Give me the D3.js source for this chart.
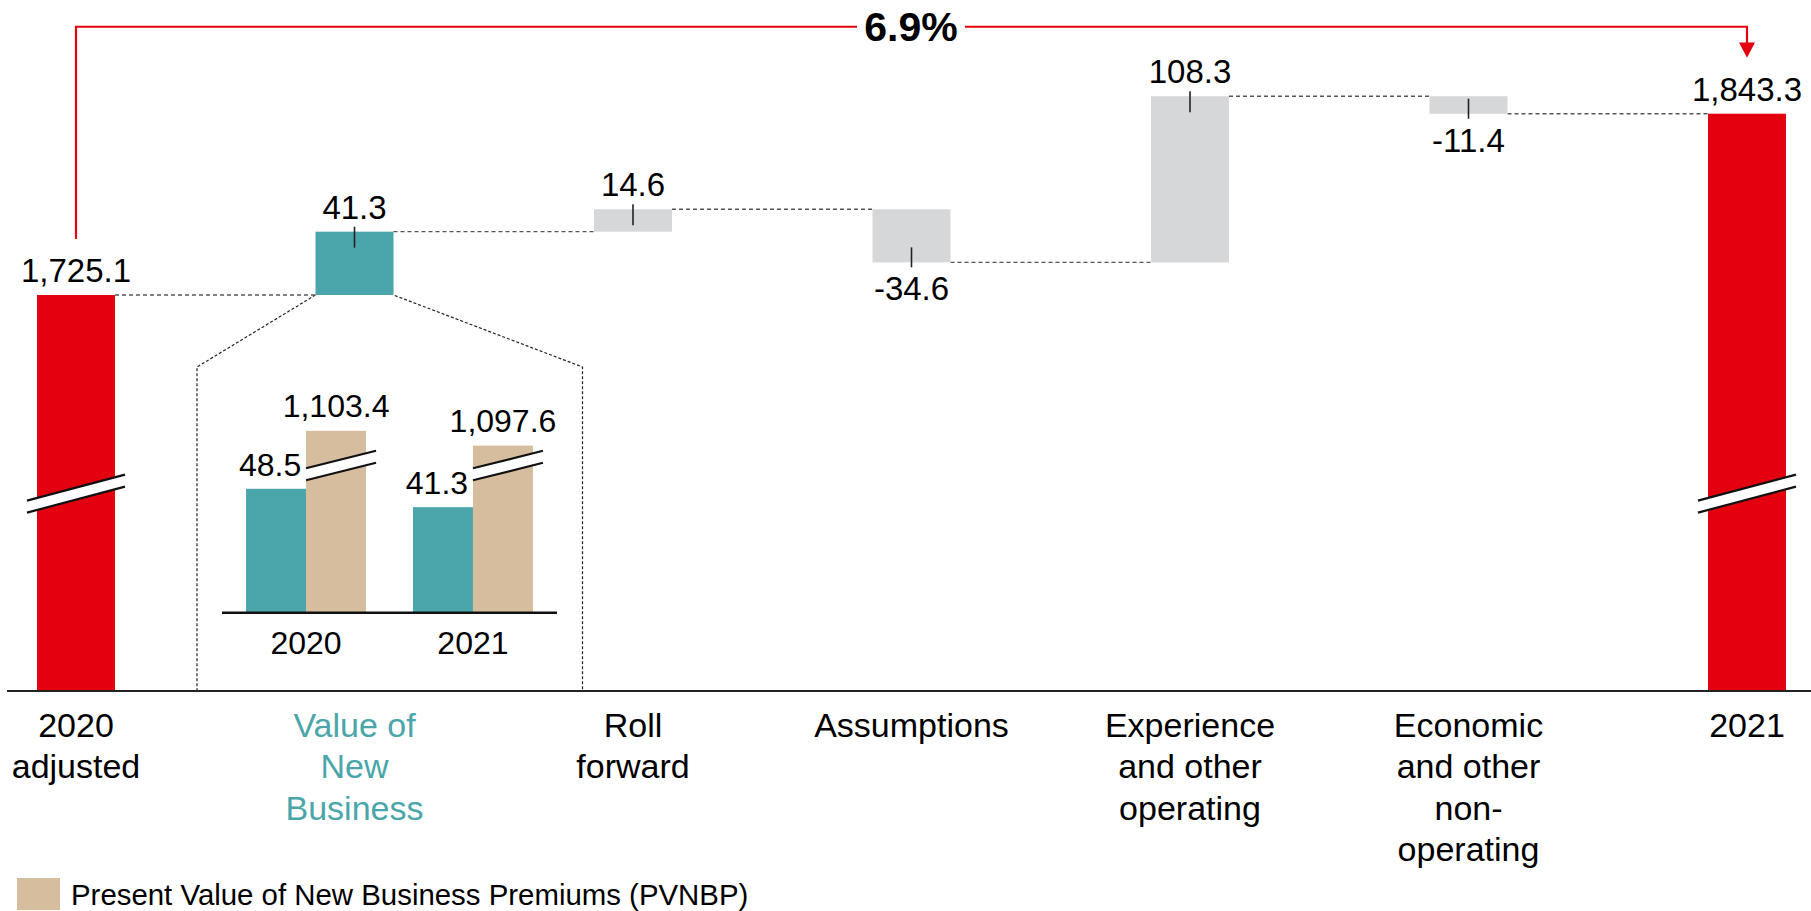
<!DOCTYPE html>
<html>
<head>
<meta charset="utf-8">
<script src="https://cdn.jsdelivr.net/npm/d3@7"></script>
<style>
  html, body { margin: 0; padding: 0; background: #fff; }
  svg { display: block; font-family: "Liberation Sans", Arial, Helvetica, sans-serif; }
</style>
</head>
<body>
<script>
// ---------------- DATA ----------------
const categories = ["2020 adjusted", "Value of New Business", "Roll forward", "Assumptions",
                    "Experience and other operating", "Economic and other non-operating", "2021"];
const categoryLines = [["2020", "adjusted"], ["Value of", "New", "Business"], ["Roll", "forward"],
                       ["Assumptions"], ["Experience", "and other", "operating"],
                       ["Economic", "and other", "non-", "operating"], ["2021"]];
const values = [1725.1, 41.3, 14.6, -34.6, 108.3, -11.4, 1843.3];
const barKinds = ["total", "vnb", "delta", "delta", "delta", "delta", "total"];
const valueLabels = ["1,725.1", "41.3", "14.6", "-34.6", "108.3", "-11.4", "1,843.3"];
const growthLabel = "6.9%";

const insetYears = ["2020", "2021"];
const insetVNB = [48.5, 41.3];
const insetVNBLabels = ["48.5", "41.3"];
const insetPVNBP = [1103.4, 1097.6];
const insetPVNBPLabels = ["1,103.4", "1,097.6"];
const legendLabel = "Present Value of New Business Premiums (PVNBP)";

// ---------------- STYLE ----------------
const RED = "#e3000f", TEAL = "#4aa6aa", TAN = "#d6bd9e", GREY = "#d6d7d9";
const W = 1811, H = 911;
const axisY = 691;
const barW = 78;

const svg = d3.select("body").append("svg").attr("width", W).attr("height", H);

// ---------------- SCALES ----------------
const x = d3.scalePoint().domain(categories).range([76, 1747]);
const y = d3.scaleLinear().domain([1600, 1900]).range([486.9, 26.74]);
const breakValue = 1595.6;

// waterfall geometry
let running = 0;
const bars = categories.map((c, i) => {
  const v = values[i];
  let lo, hi, end;
  if (barKinds[i] === "total") { lo = null; hi = v; running = v; end = v; }
  else { const start = running; running = start + v; lo = Math.min(start, running); hi = Math.max(start, running); end = running; }
  return { c, i, v, lo, hi, end, kind: barKinds[i] };
});

const fillFor = k => k === "total" ? RED : (k === "vnb" ? TEAL : GREY);

// ---------------- INSET (drawn first, behind) ----------------
const insetLeft = 197, insetRight = 582.5, insetTopY = 367;
const teal = bars[1];
svg.append("path")
  .attr("d", d3.line()([
    [x(teal.c) - barW / 2, y(teal.lo)], [insetLeft, insetTopY], [insetLeft, axisY],
    [insetRight, axisY], [insetRight, insetTopY], [x(teal.c) + barW / 2, y(teal.lo)]
  ]))
  .attr("fill", "none").attr("stroke", "#222").attr("stroke-width", 1.2)
  .attr("stroke-dasharray", "3,2");

const ix = d3.scaleBand().domain(insetYears).range([222, 557]).paddingInner(0.281).paddingOuter(0.144);
const isub = d3.scaleBand().domain(["vnb", "pvnbp"]).range([0, ix.bandwidth()]);
const iy = d3.scaleLinear().domain([0, 80]).range([612.7, 408.3]);
const pvnbpBreakOffset = 1032.2;
const insetBreakAt = 57.6;

const ig = svg.append("g");
insetYears.forEach((yr, i) => {
  const x0 = ix(yr);
  // VNB bar
  ig.append("rect").attr("x", x0 + isub("vnb")).attr("width", isub.bandwidth())
    .attr("y", iy(insetVNB[i])).attr("height", iy(0) - iy(insetVNB[i])).attr("fill", TEAL);
  // PVNBP bar (broken axis)
  const pv = insetPVNBP[i] - pvnbpBreakOffset;
  ig.append("rect").attr("x", x0 + isub("pvnbp")).attr("width", isub.bandwidth())
    .attr("y", iy(pv)).attr("height", iy(0) - iy(pv)).attr("fill", TAN);
  // break on pvnbp
  const bx0 = x0 + isub("pvnbp"), bx1 = bx0 + isub.bandwidth() + 10;
  drawBreak(ig, bx0, bx1, iy(insetBreakAt), 0.25, 12);
  // labels
  ig.append("text").attr("x", x0 + isub("vnb") + isub.bandwidth() / 2 - 6).attr("y", iy(insetVNB[i]) - 13)
    .attr("text-anchor", "middle").attr("font-size", 32).attr("fill", "#000").text(insetVNBLabels[i]);
  ig.append("text").attr("x", x0 + isub("pvnbp") + isub.bandwidth() / 2).attr("y", iy(pv) - 14)
    .attr("text-anchor", "middle").attr("font-size", 32).attr("fill", "#000").text(insetPVNBPLabels[i]);
  ig.append("text").attr("x", x0 + ix.bandwidth() / 2).attr("y", iy(0) + 41)
    .attr("text-anchor", "middle").attr("font-size", 32).attr("fill", "#000").text(yr);
});
ig.append("line").attr("x1", 222).attr("x2", 557).attr("y1", iy(0)).attr("y2", iy(0))
  .attr("stroke", "#111").attr("stroke-width", 2.5);

function drawBreak(g, x0, x1, cy, slope, gap) {
  const hw = (x1 - x0) / 2;
  const up = [[x0, cy - gap / 2 + hw * slope], [x1, cy - gap / 2 - hw * slope]];
  const lo = [[x0, cy + gap / 2 + hw * slope], [x1, cy + gap / 2 - hw * slope]];
  g.append("path").attr("d", d3.line()([up[0], up[1], lo[1], lo[0]]) + "Z").attr("fill", "#fff");
  g.append("path").attr("d", d3.line()(up)).attr("stroke", "#111").attr("stroke-width", 2.2).attr("fill", "none");
  g.append("path").attr("d", d3.line()(lo)).attr("stroke", "#111").attr("stroke-width", 2.2).attr("fill", "none");
}

// ---------------- CONNECTORS ----------------
for (let i = 0; i < bars.length - 1; i++) {
  const b = bars[i], n = bars[i + 1];
  svg.append("line")
    .attr("x1", x(b.c) + barW / 2).attr("x2", x(n.c) - barW / 2)
    .attr("y1", y(b.end)).attr("y2", y(b.end))
    .attr("stroke", "#555").attr("stroke-width", 1.4).attr("stroke-dasharray", "4,3");
}

// ---------------- BARS ----------------
bars.forEach(b => {
  const top = y(b.hi);
  const bottom = b.kind === "total" ? axisY : y(b.lo);
  svg.append("rect").attr("x", x(b.c) - barW / 2).attr("width", barW)
    .attr("y", top).attr("height", bottom - top).attr("fill", fillFor(b.kind));
  if (b.kind === "total") {
    drawBreak(svg, x(b.c) - barW / 2 - 10, x(b.c) + barW / 2 + 10, y(breakValue), 0.265, 12);
    svg.append("text").attr("x", x(b.c)).attr("y", top - 13).attr("text-anchor", "middle")
      .attr("font-size", 33).attr("fill", "#000").text(valueLabels[b.i]);
  } else if (b.v >= 0) {
    svg.append("line").attr("x1", x(b.c)).attr("x2", x(b.c)).attr("y1", top - 5).attr("y2", top + 16)
      .attr("stroke", "#222").attr("stroke-width", 1.6);
    svg.append("text").attr("x", x(b.c)).attr("y", top - 13).attr("text-anchor", "middle")
      .attr("font-size", 33).attr("fill", "#000").text(valueLabels[b.i]);
  } else {
    svg.append("line").attr("x1", x(b.c)).attr("x2", x(b.c)).attr("y1", bottom - 15).attr("y2", bottom + 5)
      .attr("stroke", "#222").attr("stroke-width", 1.6);
    svg.append("text").attr("x", x(b.c)).attr("y", bottom + 38).attr("text-anchor", "middle")
      .attr("font-size", 33).attr("fill", "#000").text(valueLabels[b.i]);
  }
});

// ---------------- AXIS ----------------
svg.append("line").attr("x1", 7).attr("x2", W).attr("y1", axisY).attr("y2", axisY)
  .attr("stroke", "#222").attr("stroke-width", 2.2);

const xAxis = svg.append("g");
categories.forEach((c, i) => {
  const t = xAxis.append("text").attr("x", x(c)).attr("y", 736.7).attr("text-anchor", "middle")
    .attr("font-size", 34).attr("fill", barKinds[i] === "vnb" ? TEAL : "#000");
  categoryLines[i].forEach((ln, j) => {
    t.append("tspan").attr("x", x(c)).attr("dy", j === 0 ? 0 : 41.5).text(ln);
  });
});

// ---------------- GROWTH BRACKET ----------------
const first = bars[0], last = bars[bars.length - 1];
const bracketY = y(1900);
svg.append("path")
  .attr("d", d3.line()([[x(first.c), 239], [x(first.c), bracketY], [x(last.c), bracketY], [x(last.c), 43]]))
  .attr("fill", "none").attr("stroke", RED).attr("stroke-width", 2.2);
svg.append("path")
  .attr("d", d3.line()([[x(last.c) - 8, 42.5], [x(last.c) + 8, 42.5], [x(last.c), 57.7]]) + "Z")
  .attr("fill", RED);
const midX = (857 + 965) / 2;
svg.append("rect").attr("x", 857).attr("y", bracketY - 20).attr("width", 108).attr("height", 40).attr("fill", "#fff");
svg.append("text").attr("x", midX).attr("y", 41.3).attr("text-anchor", "middle")
  .attr("font-size", 41).attr("font-weight", "bold").attr("fill", "#000").text(growthLabel);

// ---------------- LEGEND ----------------
svg.append("rect").attr("x", 17).attr("y", 878).attr("width", 43).attr("height", 32).attr("fill", TAN);
svg.append("text").attr("x", 71).attr("y", 905).attr("font-size", 29.4).attr("fill", "#000").text(legendLabel);
</script>
</body>
</html>
